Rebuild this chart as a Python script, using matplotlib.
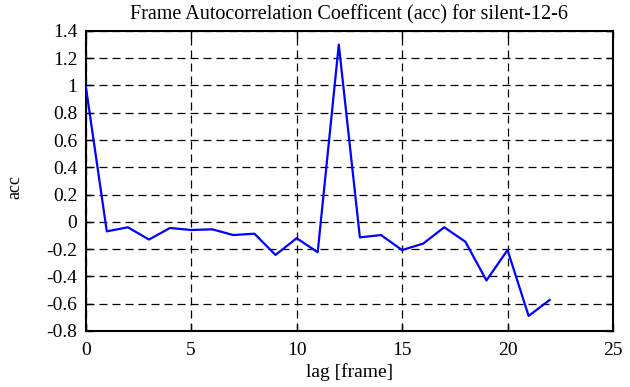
import matplotlib
matplotlib.use("Agg")
import matplotlib.pyplot as plt

# frame autocorrelation coefficient per lag
lags = [0, 1, 2, 3, 4, 5, 6, 7, 8, 9, 10, 11, 12, 13, 14, 15, 16, 17, 18, 19, 20, 21, 22]
acc = [1.0, -0.07, -0.04, -0.13, -0.045, -0.06, -0.055, -0.097, -0.087, -0.243,
       -0.12, -0.223, 1.30, -0.114, -0.097, -0.207, -0.16, -0.04, -0.146, -0.43,
       -0.207, -0.69, -0.573]

x_ticks = [0, 5, 10, 15, 20, 25]
y_ticks = [-0.8, -0.6, -0.4, -0.2, 0, 0.2, 0.4, 0.6, 0.8, 1, 1.2, 1.4]
y_labels = ["-0.8", "-0.6", "-0.4", "-0.2", "0", "0.2", "0.4", "0.6", "0.8", "1", "1.2", "1.4"]

plt.rcParams["font.family"] = ["Liberation Serif", "DejaVu Serif"]

fig = plt.figure(figsize=(6.3, 3.87), dpi=100)
ax = fig.add_axes([0.136, 0.145, 0.837, 0.775])

ax.plot(lags, acc, color="#0000ff", linewidth=1.6, zorder=3)

ax.set_xlim(0, 25)
ax.set_ylim(-0.8, 1.4)
ax.set_xticks(x_ticks)
ax.set_yticks(y_ticks)
ax.set_yticklabels(y_labels)
ax.grid(True, color="black", linestyle=(0, (6.4, 4)), linewidth=0.9)

ax.tick_params(direction="in", length=5, width=1, top=True, right=True,
               labelsize=14)
ax.tick_params(axis="x", pad=8)
ax.tick_params(axis="y", pad=6)
for s in ax.spines.values():
    s.set_linewidth(1.5)

ax.set_title("Frame Autocorrelation Coefficent (acc) for silent-12-6", fontsize=14.5, pad=8)
ax.set_xlabel("lag [frame]", fontsize=14, labelpad=3)
ax.set_ylabel("acc", fontsize=13)
ax.yaxis.set_label_coords(-0.118, 0.48)

fig.savefig("out.png", dpi=100)
